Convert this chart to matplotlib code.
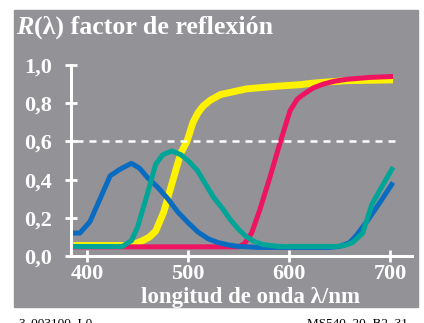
import matplotlib
matplotlib.use("Agg")
import matplotlib.pyplot as plt
from matplotlib.patches import Rectangle
from matplotlib.transforms import blended_transform_factory

plt.rcParams['font.family'] = ['Liberation Serif', 'DejaVu Serif']

# Spectral reflectance curves (wavelength in nm, reflectance factor)
wl_blue = [385, 393, 403, 413, 423, 433, 444, 452, 460, 470, 480, 490, 500, 510,
           520, 530, 540, 550, 570, 600, 640, 650, 660, 667, 677, 690, 703]
r_blue = [0.12, 0.12, 0.18, 0.30, 0.42, 0.455, 0.485, 0.46, 0.41, 0.36, 0.30, 0.23,
          0.175, 0.125, 0.09, 0.07, 0.058, 0.05, 0.045, 0.045, 0.045, 0.05, 0.07,
          0.11, 0.18, 0.28, 0.385]

wl_teal = [385, 435, 444, 450, 459, 468, 475, 484, 493, 500, 509, 517, 525, 534,
           542, 550, 558, 566, 574, 590, 647, 655, 663, 673, 682, 690, 703]
r_teal = [0.05, 0.05, 0.08, 0.15, 0.31, 0.48, 0.53, 0.55, 0.53, 0.50, 0.45, 0.38,
          0.31, 0.25, 0.19, 0.14, 0.10, 0.075, 0.06, 0.05, 0.05, 0.055, 0.07, 0.12,
          0.27, 0.345, 0.465]

wl_yellow = [385, 440, 448, 455, 462, 468, 476, 482, 488, 493, 499, 505, 510, 515,
             522, 532, 545, 558, 575, 591, 611, 624, 640, 657, 680, 703]
r_yellow = [0.055, 0.055, 0.065, 0.08, 0.10, 0.13, 0.23, 0.34, 0.45, 0.54, 0.60,
            0.70, 0.75, 0.785, 0.815, 0.845, 0.86, 0.875, 0.883, 0.89, 0.897,
            0.905, 0.912, 0.918, 0.92, 0.922]

wl_red = [385, 550, 556, 563, 571, 581, 591, 601, 608, 614, 624, 634, 645, 657,
          680, 703]
r_red = [0.048, 0.048, 0.065, 0.12, 0.24, 0.41, 0.59, 0.76, 0.82, 0.845, 0.88,
         0.90, 0.915, 0.925, 0.935, 0.94]

x_ticks = [400, 500, 600, 700]
y_ticks = [0.0, 0.2, 0.4, 0.6, 0.8, 1.0]
y_labels = ['0,0', '0,2', '0,4', '0,6', '0,8', '1,0']

gray = '#929297'
W, H = 424, 323

fig = plt.figure(figsize=(W / 100, H / 100), dpi=100)
fig.patches.append(Rectangle((14 / W, 1 - 307 / H), 404 / W, 297 / H,
                             transform=fig.transFigure, color=gray, zorder=0))

ax = fig.add_axes([71 / W, 1 - 256 / H, 341 / W, 191 / H], zorder=2)
ax.set_facecolor('none')
ax.set_xlim(384.2, 721.8)
ax.set_ylim(0, 1.0)

ax.plot(wl_yellow, r_yellow, color='#fff200', lw=5, solid_capstyle='butt')
ax.plot(wl_red, r_red, color='#ee1460', lw=3.6, solid_capstyle='butt')
ax.plot(wl_blue, r_blue, color='#0a6cc0', lw=3.6, solid_capstyle='butt')
ax.plot(wl_teal, r_teal, color='#00a597', lw=3.6, solid_capstyle='butt')

ax.axhline(0.6, xmin=0.015, xmax=0.956, color='white', lw=1.8,
           linestyle=(0, (2.8, 2.4)))

for s in ['top', 'right']:
    ax.spines[s].set_visible(False)
for s in ['left', 'bottom']:
    ax.spines[s].set_color('white')
    ax.spines[s].set_linewidth(2.2)

ax.set_xticks(x_ticks)
ax.set_yticks(y_ticks)
ax.tick_params(direction='inout', length=8, width=2, color='white',
               labelcolor='white', labelsize=16)
ax.tick_params(axis='x', pad=1.5)
ax.tick_params(axis='y', labelleft=False)
for lab in ax.get_xticklabels():
    lab.set_fontweight('bold')

# y tick labels with decimal comma, right edge at x = 52 px
ylab_tr = blended_transform_factory(fig.transFigure, ax.transData)
for yv, txt in zip(y_ticks, y_labels):
    ax.text(52 / W, yv, txt, transform=ylab_tr, color='white', fontsize=16,
            fontweight='bold', ha='right', va='center_baseline', clip_on=False)

# title: italic R followed by the rest
renderer = fig.canvas.get_renderer()
t1 = fig.text(16 / W, 1 - 34 / H, 'R', color='white', fontsize=18.7,
              fontweight='bold', fontstyle='italic', va='baseline', zorder=3)
bb = t1.get_window_extent(renderer)
fig.text(bb.x1 / W + 1 / W, 1 - 34 / H, '(λ) factor de reflexión', color='white',
         fontsize=18.7, fontweight='bold', va='baseline', zorder=3)

fig.text(250 / W, 1 - 303 / H, 'longitud de onda λ/nm', color='white',
         fontsize=16.5, fontweight='bold', ha='center', va='baseline', zorder=3)

fig.text(18 / W, 1 - 327 / H, '3–003100–L0', fontsize=9.5, va='baseline')
fig.text(408 / W, 1 - 327 / H, 'MS540–20, B2_31', fontsize=9.5, ha='right',
         va='baseline')

fig.savefig('out.png', dpi=100)
